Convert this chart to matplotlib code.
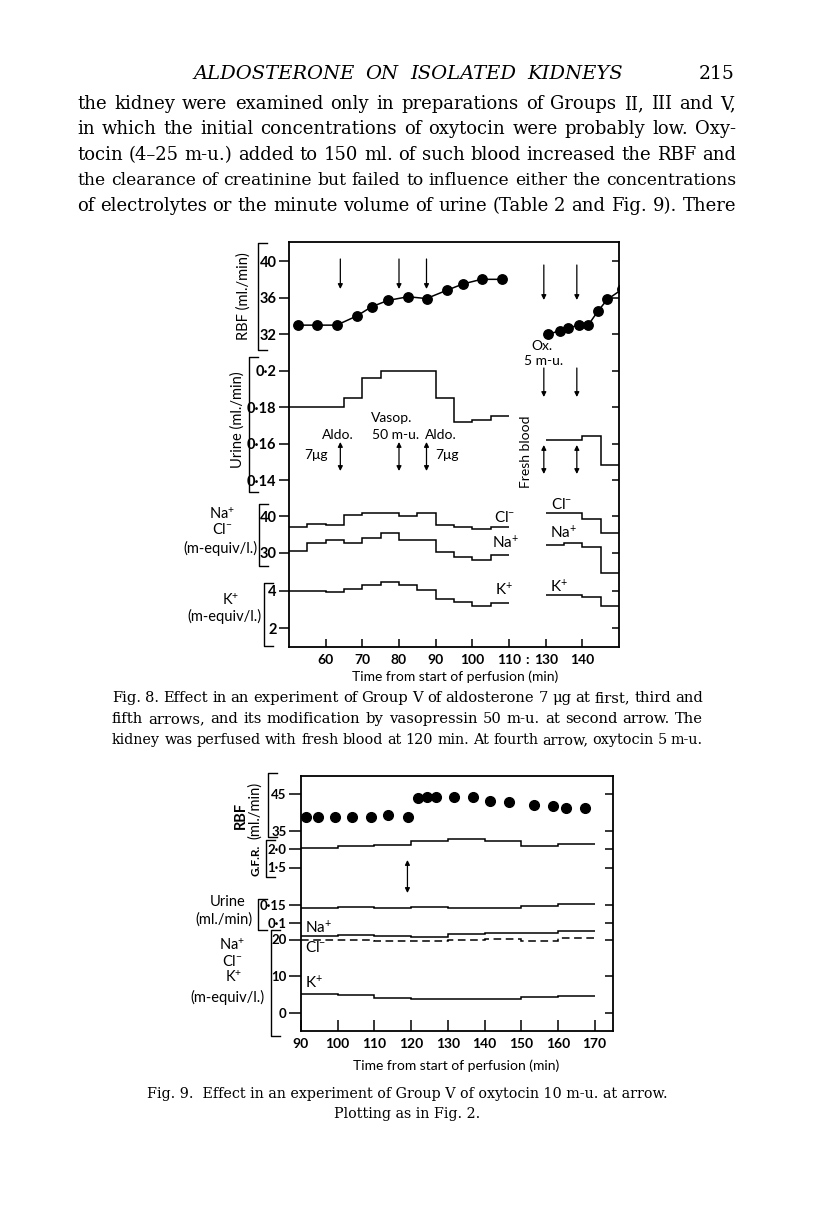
import matplotlib
matplotlib.use('Agg')
import matplotlib.pyplot as plt
from matplotlib.lines import Line2D
import numpy as np

W, H = 816, 1211
plt.rcParams['font.family'] = ['Lato', 'DejaVu Sans']
plt.rcParams['mathtext.fontset'] = 'custom'
plt.rcParams['mathtext.rm'] = 'Lato'
plt.rcParams['mathtext.it'] = 'Lato:italic'
plt.rcParams['mathtext.fallback'] = 'stixsans'

# ---------------- Fig. 8 data (min from start of perfusion) ----------------
rbf8_t = [52.5, 57.5, 63, 68.5, 72.5, 77, 82.5, 87.5, 93, 97.5, 102.5, 108]
rbf8 = [33, 33, 33, 34, 35, 35.7, 36.1, 35.9, 36.8, 37.5, 38, 38]
rbf8b_t = [130.7, 133.9, 136.2, 139.1, 141.6, 144.2, 146.8, 150.8]
rbf8b = [32.0, 32.4, 32.7, 33.0, 33.0, 34.5, 35.8, 36.9]

urine8_e = [50, 65, 70, 75, 90, 95, 100, 105, 110]
urine8 = [0.18, 0.185, 0.196, 0.2, 0.185, 0.172, 0.173, 0.175]
urine8b_e = [130, 140, 145, 150]
urine8b = [0.162, 0.164, 0.148]

cl8_e = [50, 55, 60, 65, 70, 75, 80, 85, 90, 95, 100, 105, 110]
cl8 = [37.1, 37.9, 37.6, 40.3, 40.9, 40.8, 40.0, 40.7, 37.5, 36.9, 36.4, 36.9]
cl8b_e = [130, 140, 145, 150]
cl8b = [40.9, 39.3, 35.3]

na8_e = [50, 55, 60, 65, 70, 75, 80, 90, 95, 100, 105, 110]
na8 = [30.6, 32.7, 33.5, 32.7, 34.0, 35.4, 33.6, 30.4, 29.0, 28.1, 29.5]
na8b_e = [130, 135, 140, 145, 150]
na8b = [32.1, 32.7, 31.7, 24.6]

k8_e = [50, 60, 65, 70, 75, 80, 85, 90, 95, 100, 105, 110]
k8 = [4.02, 3.96, 4.1, 4.32, 4.47, 4.32, 4.05, 3.57, 3.42, 3.2, 3.33]
k8b_e = [130, 140, 145, 150]
k8b = [3.8, 3.68, 3.19]

events8 = [64, 80, 87.5, 129.5, 138.5]   # arrows (aldo, vasop, aldo, ox, aldo)
xt8 = [60, 70, 80, 90, 100, 110, 130, 140]

# ---------------- Fig. 9 data ----------------
rbf9_t = [91.4, 94.5, 99.2, 104, 109, 113.7, 119.2, 121.9, 124.4, 126.9,
          131.6, 136.9, 141.6, 146.6, 153.6, 158.6, 162.2, 167.4]
rbf9 = [38.8, 38.8, 38.7, 38.7, 38.9, 39.2, 38.9, 43.8, 44.1, 44.1,
        44.3, 44.1, 43.2, 42.9, 42.0, 41.7, 41.2, 41.1]
edges9 = [90, 100, 110, 120, 130, 140, 150, 160, 170]
gfr9 = [2.02, 2.08, 2.12, 2.22, 2.27, 2.22, 2.08, 2.14]
urine9 = [0.141, 0.144, 0.141, 0.144, 0.141, 0.141, 0.147, 0.152]
na9 = [21.0, 21.3, 21.0, 20.8, 21.5, 21.7, 21.9, 22.4]
cl9 = [20.0, 20.0, 19.6, 19.7, 19.9, 20.2, 19.7, 20.5]
k9 = [5.1, 4.8, 4.1, 3.9, 3.7, 3.7, 4.35, 4.55]
event9 = 119
xt9 = [90, 100, 110, 120, 130, 140, 150, 160, 170]

body = [
    "the kidney were examined only in preparations of Groups II, III and V,",
    "in which the initial concentrations of oxytocin were probably low.  Oxy-",
    "tocin (4\u201325 m-u.) added to 150 ml. of such blood increased the RBF and",
    "the clearance of creatinine but failed to influence either the concentrations",
    "of electrolytes or the minute volume of urine (Table 2 and Fig. 9).  There",
]
cap8 = [
    "Fig. 8.  Effect in an experiment of Group V of aldosterone 7 \u03bcg at first, third and",
    "fifth arrows, and its modification by vasopressin 50 m-u. at second arrow.  The",
    "kidney was perfused with fresh blood at 120 min.  At fourth arrow, oxytocin 5 m-u.",
]
cap9 = ["Fig. 9.  Effect in an experiment of Group V of oxytocin 10 m-u. at arrow.",
        "Plotting as in Fig. 2."]

fig = plt.figure(figsize=(W / 100, H / 100), dpi=100)
SERIF = ['DejaVu Serif']


def fbox(x0, y0, x1, y1):
    return [x0 / W, 1 - y1 / H, (x1 - x0) / W, (y1 - y0) / H]


def ftext(x, y, s, **kw):
    kw.setdefault('ha', 'center')
    kw.setdefault('va', 'center')
    return fig.text(x / W, 1 - y / H, s, **kw)


def bracket(x, top, bot, foot=9, lw=1.0):
    xs = np.array([x + foot, x, x, x + foot])
    ys = np.array([top, top, bot, bot])
    fig.add_artist(Line2D(xs / W, 1 - ys / H, color='k', lw=lw))


def justify(x0, x1, y, line, size, min_gap=4.5, **kw):
    # spread the words of one line between x0 and x1 (page pixels)
    r = fig.canvas.get_renderer()
    words = line.split()
    ts = [fig.text(0, 1 - y / H, w, size=size, va='baseline', family=SERIF, **kw)
          for w in words]
    ws = [t.get_window_extent(r).width for t in ts]
    n = max(len(words) - 1, 1)
    room = x1 - x0 - n * min_gap
    if sum(ws) > room:
        f = room / sum(ws)
        for t in ts:
            t.set_size(size * f)
        ws = [w * f for w in ws]
    gap = (x1 - x0 - sum(ws)) / n
    x = x0
    for t, w in zip(ts, ws):
        t.set_x(x / W)
        x += w + gap


def frame(box, xlim, xt, xlabels, tick_len):
    ax = fig.add_axes(fbox(*box))
    ax.set_xlim(*xlim)
    ax.set_ylim(box[3], box[1])        # y in page rows, for annotations
    ax.set_yticks([])
    ax.set_xticks(xt, xlabels)
    ax.tick_params(axis='x', direction='in', length=tick_len, width=1.1, pad=5,
                   labelsize=10)
    for lab in ax.get_xticklabels():
        lab.set_fontweight('bold')
    for s in ax.spines.values():
        s.set_linewidth(1.3)
    return ax


def panel(box, xlim, ref1, ref2, ticks, labels, lout, lin, lsize=10.5):
    (r1, v1), (r2, v2) = ref1, ref2
    k = (v1 - v2) / (r2 - r1)
    ax = fig.add_axes(fbox(*box))
    ax.set_xlim(*xlim)
    ax.set_ylim(v1 - (box[3] - r1) * k, v1 + (r1 - box[1]) * k)
    ax.patch.set_visible(False)
    for s in ax.spines.values():
        s.set_visible(False)
    ax.set_xticks([])
    ax.set_yticks(ticks, labels)
    ax.tick_params(axis='y', direction='out', length=lout, width=1.1, pad=1.5,
                   labelsize=lsize)
    for lab in ax.get_yticklabels():
        lab.set_fontweight('bold')
    sec = ax.secondary_yaxis('right')
    sec.set_yticks(ticks)
    sec.tick_params(direction='in', length=lin, width=1.1, labelright=False)
    sec.spines['right'].set_visible(False)
    return ax


def brk(t):
    t = np.asarray(t, dtype=float)
    return np.where(t <= 115, t, t - 10)


def arrow(ax, t, y0, y1, style='-|>'):
    ax.annotate('', xy=(t, y1), xytext=(t, y0),
                arrowprops=dict(arrowstyle=style, color='k', lw=0.9,
                                mutation_scale=7, shrinkA=0, shrinkB=0))


# ---------------- page text ----------------
justify(193, 623, 79, "ALDOSTERONE ON ISOLATED KIDNEYS", 14, style='italic')
ftext(735, 79, "215", ha='right', va='baseline', size=13.5, family=SERIF)
for i, line in enumerate(body):
    justify(77, 736, 109 + 25.4 * i, line, 13.0, min_gap=5.5)
for i, line in enumerate(cap8):
    justify(112, 703, 702 + 21 * i, line, 10.6, min_gap=4)
for i, line in enumerate(cap9):
    ftext(407, 1098 + 20 * i, line, va='baseline', size=10.3, family=SERIF)

# ---------------- Fig. 8 ----------------
B8 = (289, 242, 619, 647)
X8 = (50, 140)
ax8 = frame(B8, X8, brk(xt8), [str(v) for v in xt8], 6)
ax8.text(115, 660, ':', ha='center', va='center', size=10, fontweight='bold')
ftext(455, 677, 'Time from start of perfusion (min)', size=10)

p = panel(B8, X8, (261, 40), (334.3, 32), [32, 36, 40], ['32', '36', '40'], 7.5, 5)
p.plot(brk(rbf8_t), rbf8, 'o-', color='k', ms=6.8, lw=1.1)
p.plot(brk(rbf8b_t), rbf8b, 'o-', color='k', ms=6.8, lw=1.1)

p = panel(B8, X8, (371, 0.2), (480, 0.14), [0.14, 0.16, 0.18, 0.2],
          ['0·14', '0·16', '0·18', '0·2'], 7.5, 5)
p.stairs(urine8, brk(urine8_e), baseline=None, color='k', lw=1.1)
p.stairs(urine8b, brk(urine8b_e), baseline=None, color='k', lw=1.1)

p = panel(B8, X8, (516, 40), (553, 30), [30, 40], ['30', '40'], 7.5, 5)
for vals, edges in [(cl8, cl8_e), (cl8b, cl8b_e), (na8, na8_e), (na8b, na8b_e)]:
    p.stairs(vals, brk(edges), baseline=None, color='k', lw=1.1)

p = panel(B8, X8, (591, 4), (628, 2), [2, 4], ['2', '4'], 7.5, 5)
p.stairs(k8, brk(k8_e), baseline=None, color='k', lw=1.1)
p.stairs(k8b, brk(k8b_e), baseline=None, color='k', lw=1.1)

for i, t in enumerate(brk(events8)):
    if i < 3:
        arrow(ax8, t, 259, 289)
        arrow(ax8, t, 442, 471, '<|-|>')
    else:
        arrow(ax8, t, 265, 300)
        arrow(ax8, t, 368, 397)
        arrow(ax8, t, 445, 474, '<|-|>')

kw8 = dict(size=10)
ftext(338, 435, 'Aldo.', **kw8)
ftext(316, 455, '7\u03bcg', **kw8)
ftext(392, 418, 'Vasop.', **kw8)
ftext(396, 435, '50 m-u.', **kw8)
ftext(441, 435, 'Aldo.', **kw8)
ftext(447, 455, '7\u03bcg', **kw8)
ftext(542, 346, 'Ox.', **kw8)
ftext(544, 361, '5 m-u.', **kw8)
ftext(526, 452, 'Fresh blood', rotation=90, **kw8)
ftext(494, 517, 'Cl$^{-}$', ha='left', size=11)
ftext(492, 543, 'Na$^{+}$', ha='left', size=11)
ftext(495, 590, 'K$^{+}$', ha='left', size=11)
ftext(551, 505, 'Cl$^{-}$', ha='left', size=11)
ftext(550, 533, 'Na$^{+}$', ha='left', size=11)
ftext(550, 587, 'K$^{+}$', ha='left', size=11)

# left side labels and brackets
ftext(244, 296, 'RBF (ml./min)', rotation=90, size=10.5)
bracket(258, 243, 350)
ftext(238, 420, 'Urine (ml./min)', rotation=90, size=10.5)
bracket(249, 357, 492)
ftext(222, 514, 'Na$^{+}$', size=10.5)
ftext(222, 530, 'Cl$^{-}$', size=10.5)
ftext(257, 548, '(m-equiv/l.)', ha='right', size=10.5)
bracket(259, 504, 566)
ftext(231, 600, 'K$^{+}$', size=10.5)
ftext(262, 616, '(m-equiv/l.)', ha='right', size=10.5)
bracket(264, 583, 646)

# ---------------- Fig. 9 ----------------
B9 = (301, 776, 613, 1031)
X9 = (90, 175)
ax9 = frame(B9, X9, xt9, [str(v) for v in xt9], 8)
ftext(456, 1066, 'Time from start of perfusion (min)', size=10)

p = panel(B9, X9, (794, 45), (831, 35), [35, 45], ['35', '45'], 9, 6, 9.5)
p.plot(rbf9_t, rbf9, 'o', color='k', ms=7)

p = panel(B9, X9, (849, 2.0), (867.5, 1.5), [1.5, 2.0], ['1·5', '2·0'], 9, 6, 9.5)
p.stairs(gfr9, edges9, baseline=None, color='k', lw=1.1)

p = panel(B9, X9, (905, 0.15), (923, 0.10), [0.10, 0.15], ['0·1', '0·15'], 9, 6, 9.5)
p.stairs(urine9, edges9, baseline=None, color='k', lw=1.1)

p = panel(B9, X9, (939.5, 20), (1013, 0), [0, 10, 20], ['0', '10', '20'], 9, 6, 9.5)
p.stairs(na9, edges9, baseline=None, color='k', lw=1.1)
p.stairs(cl9, edges9, baseline=None, color='k', lw=1.1, linestyle=(0, (5, 3)))
p.stairs(k9, edges9, baseline=None, color='k', lw=1.1)

arrow(ax9, event9, 860, 893, '<|-|>')
ftext(305, 928, 'Na$^{+}$', ha='left', size=11)
ftext(305, 948, 'Cl$^{-}$', ha='left', size=11)
ftext(305, 983, 'K$^{+}$', ha='left', size=11)

ftext(241, 815, 'RBF', rotation=90, size=10.5, fontweight='bold')
ftext(255, 810, '(ml./min)', rotation=90, size=10.5)
bracket(268, 773, 837)
ftext(256, 860, 'G.F.R.', rotation=90, size=8.5, fontweight='bold')
bracket(266, 840, 877)
ftext(228, 902, 'Urine', size=10.5)
ftext(224, 920, '(ml./min)', size=10.5)
bracket(258, 899, 930)
ftext(232, 945, 'Na$^{+}$', size=10.5)
ftext(232, 961, 'Cl$^{-}$', size=10.5)
ftext(234, 977, 'K$^{+}$', size=10.5)
ftext(227, 997, '(m-equiv/l.)', size=10.5)
bracket(271, 930, 1036)

fig.savefig('out.png', dpi=100)
